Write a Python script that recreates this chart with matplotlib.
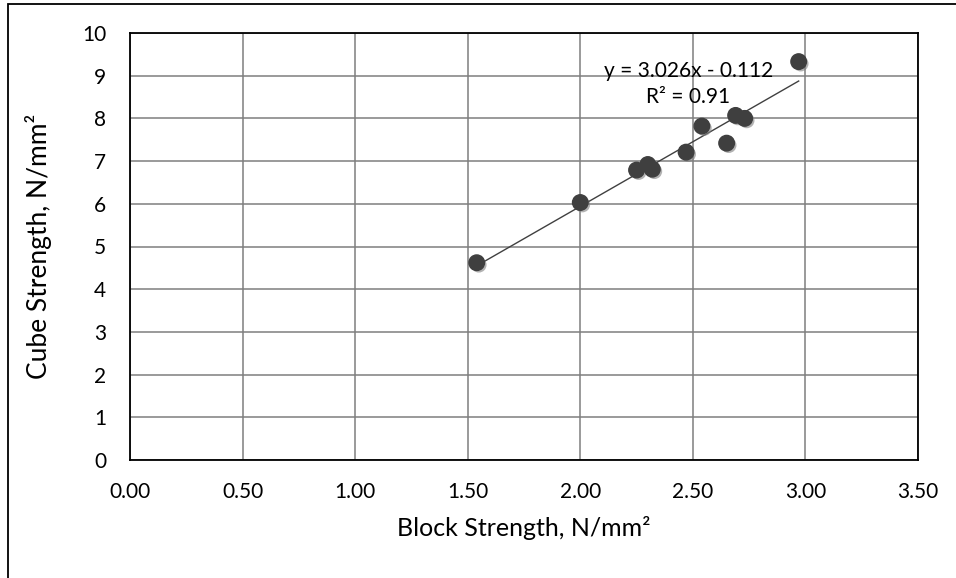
import matplotlib.pyplot as plt
import matplotlib.patheffects as pe
from matplotlib.patches import Rectangle
import numpy as np

plt.rcParams['font.family'] = ['Lato', 'DejaVu Sans']

# block strength (x) vs cube strength (y), N/mm2
block = [1.54, 2.00, 2.25, 2.30, 2.32, 2.47, 2.54, 2.65, 2.69, 2.73, 2.97]
cube = [4.62, 6.03, 6.79, 6.92, 6.81, 7.21, 7.82, 7.42, 8.07, 8.00, 9.33]

slope = 3.026
intercept = -0.112
r2 = 0.91

xticks = [0.0, 0.5, 1.0, 1.5, 2.0, 2.5, 3.0, 3.5]
yticks = list(range(0, 11))

fig = plt.figure(figsize=(9.56, 5.78), dpi=100)
ax = fig.add_axes([130 / 956, 1 - 460 / 578, (918 - 130) / 956, (460 - 33) / 578])

# outer chart border (top and left only visible)
fig.patches.append(Rectangle((8 / 956, -0.1), 1.2, 1 - 4 / 578 + 0.1,
                             transform=fig.transFigure, fill=False,
                             edgecolor='black', linewidth=1.3))

ax.set_xlim(0, 3.5)
ax.set_ylim(0, 10)
ax.set_xticks(xticks)
ax.set_yticks(yticks)
ax.set_xticklabels([f"{t:.2f}" for t in xticks])
ax.tick_params(length=0, labelsize=15, pad=16, colors='black')
ax.tick_params(axis='y', pad=17)
ax.grid(True, color='#7f7f7f', linewidth=1.1)
ax.set_axisbelow(True)
for s in ax.spines.values():
    s.set_color('black')
    s.set_linewidth(1.3)

# trendline
xl = np.array([min(block), max(block)])
ax.plot(xl, slope * xl + intercept, color='#404040', linewidth=1.0, zorder=3)

ax.scatter(block, cube, s=125, color='#3f3f3f', zorder=4,
           path_effects=[pe.SimplePatchShadow(offset=(1.5, -1.5), shadow_rgbFace='#808080', alpha=0.6),
                         pe.Normal()])

ax.text(2.48, 9.12, f"y = {slope:.3f}x - {abs(intercept):.3f}", fontsize=15,
        ha='center', va='center', zorder=5)
ax.text(2.48, 8.5, f"R² = {r2:.2f}", fontsize=15, ha='center', va='center', zorder=5)

ax.set_xlabel("Block Strength, N/mm²", fontsize=18, labelpad=10)
ax.set_ylabel("Cube Strength, N/mm²", fontsize=19, labelpad=22)

fig.savefig("out.png", dpi=100)
